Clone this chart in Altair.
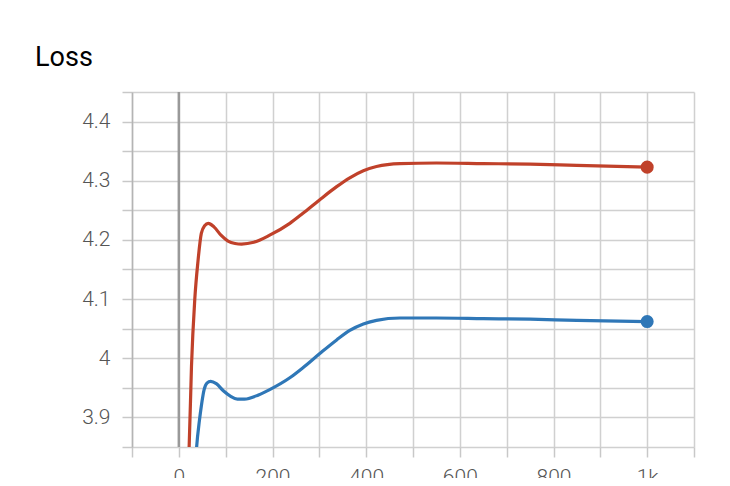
import altair as alt
import pandas as pd

# Red series (step, loss)
red_x = [18, 22, 27, 34, 41, 48, 55, 63, 75, 90, 105, 120, 134, 160, 194, 237, 265, 301, 337, 365, 394, 422, 472, 550, 650, 750, 850, 1000]
red_y = [3.80, 3.85, 3.986, 4.099, 4.165, 4.211, 4.224, 4.228, 4.222, 4.208, 4.198, 4.194, 4.193, 4.196, 4.208, 4.228, 4.245, 4.268, 4.290, 4.305, 4.317, 4.324, 4.329, 4.330, 4.329, 4.328, 4.326, 4.323]

# Blue series (step, loss)
blue_x = [34, 38, 44, 48, 54, 60, 68, 80, 95, 110, 125, 140, 170, 194, 237, 265, 301, 337, 365, 394, 422, 472, 550, 650, 750, 850, 1000]
blue_y = [3.80, 3.85, 3.895, 3.919, 3.947, 3.958, 3.961, 3.957, 3.945, 3.936, 3.931, 3.931, 3.938, 3.947, 3.967, 3.984, 4.008, 4.031, 4.047, 4.058, 4.064, 4.068, 4.068, 4.067, 4.066, 4.064, 4.062]

x_ticks = [-100, 0, 100, 200, 300, 400, 500, 600, 700, 800, 900, 1000, 1100]
y_ticks = [3.85, 3.9, 3.95, 4.0, 4.05, 4.1, 4.15, 4.2, 4.25, 4.3, 4.35, 4.4, 4.45]

series_names = ["red", "blue"]
series_colors = ["#c0412a", "#2f77b7"]

df = pd.concat([
    pd.DataFrame({"step": red_x, "loss": red_y, "run": "red"}),
    pd.DataFrame({"step": blue_x, "loss": blue_y, "run": "blue"}),
])
last = df[df["step"] == 1000]
zero = pd.DataFrame({"step": [0]})

FONT = "Roboto"

xscale = alt.Scale(domain=[-100, 1100], nice=False, zero=False)
yscale = alt.Scale(domain=[3.85, 4.45], nice=False, zero=False)
color = alt.Color("run:N", scale=alt.Scale(domain=series_names, range=series_colors), legend=None)

xaxis = alt.Axis(values=x_ticks, title=None, grid=True, gridColor="#d0d0d0", gridWidth=1.5,
                 domain=False, tickColor="#c8c8c8", tickWidth=1.5, tickSize=10,
                 labelExpr="datum.value % 200 == 0 ? format(datum.value, '~s') : ''",
                 labelOverlap=False, labelFlush=False,
                 labelFont=FONT, labelFontSize=21, labelFontWeight=300, labelColor="#555555",
                 labelPadding=9)
yaxis = alt.Axis(values=y_ticks, title=None, grid=True, gridColor="#d0d0d0", gridWidth=1.5,
                 domain=True, domainColor="#b4b4b4", domainWidth=1.5,
                 tickColor="#c8c8c8", tickWidth=1.5, tickSize=10,
                 labelExpr="round(datum.value * 20) % 2 == 0 ? format(datum.value, '~g') : ''",
                 labelOverlap=False, labelFlush=False,
                 labelFont=FONT, labelFontSize=21, labelFontWeight=300, labelColor="#555555",
                 labelPadding=12)

X = alt.X("step:Q", scale=xscale, axis=xaxis)
Y = alt.Y("loss:Q", scale=yscale, axis=yaxis)

zero_rule = alt.Chart(zero).mark_rule(color="#999999", strokeWidth=2.5).encode(x=X)

lines = alt.Chart(df).mark_line(strokeWidth=3.2, interpolate="monotone", clip=True).encode(
    x=X, y=Y, color=color, detail="run:N",
)

dots = alt.Chart(last).mark_point(filled=True, size=170, opacity=1).encode(
    x=X, y=Y, color=color,
)

chart = alt.layer(zero_rule, lines, dots).properties(
    width=562, height=355,
    title=alt.Title("Loss", anchor="start", frame="group", dx=-97, dy=38, offset=26,
                    baseline="alphabetic",
                    font=FONT, fontSize=27, fontWeight=400, color="#000000"),
    autosize=alt.AutoSizeParams(type="none"),
    padding={"left": 124, "top": 84, "right": 28, "bottom": 31},
).configure_view(stroke=None)

chart.save("out.html", embed_options={"renderer": "svg", "actions": False})
